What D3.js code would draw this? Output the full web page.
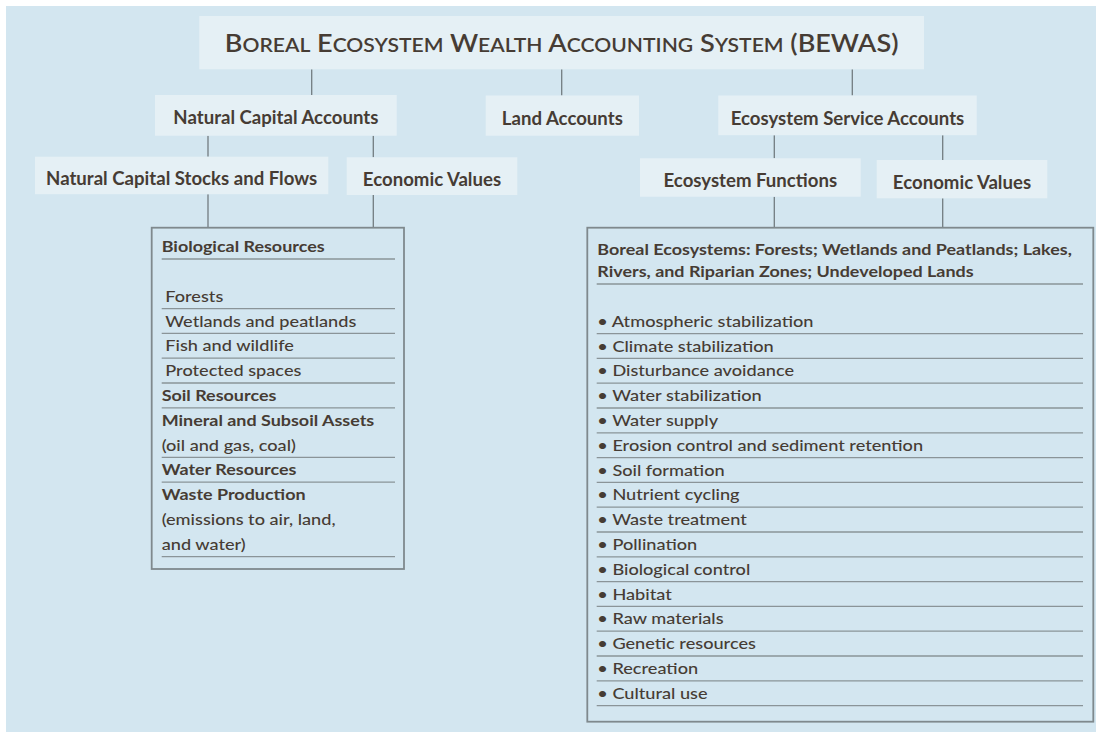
<!DOCTYPE html>
<html>
<head>
<meta charset="utf-8">
<script src="https://cdn.jsdelivr.net/npm/d3@7"></script>
<style>
  html, body { margin: 0; padding: 0; background: #ffffff; }
  svg { display: block; }
  text { font-family: "Lato", "Open Sans", sans-serif; fill: #463c34; }
</style>
</head>
<body>
<svg id="chart" width="1096" height="732"></svg>
<script>
// ---------------- DATA ----------------
const titleText = "Boreal Ecosystem Wealth Accounting System (BEWAS)";

const level1 = ["Natural Capital Accounts", "Land Accounts", "Ecosystem Service Accounts"];

const level2 = [
  { label: "Natural Capital Stocks and Flows", parent: 0 },
  { label: "Economic Values", parent: 0 },
  { label: "Ecosystem Functions", parent: 2 },
  { label: "Economic Values", parent: 2 }
];

// Left panel: groups of lines; a rule follows each non-empty group
const naturalCapitalGroups = [
  [{ t: "Biological Resources", k: "head" }],
  [],
  [{ t: "Forests", k: "sub" }],
  [{ t: "Wetlands and peatlands", k: "sub" }],
  [{ t: "Fish and wildlife", k: "sub" }],
  [{ t: "Protected spaces", k: "sub" }],
  [{ t: "Soil Resources", k: "head" }],
  [{ t: "Mineral and Subsoil Assets", k: "head" }, { t: "(oil and gas, coal)", k: "note" }],
  [{ t: "Water Resources", k: "head" }],
  [{ t: "Waste Production", k: "head" }, { t: "(emissions to air, land,", k: "note" }, { t: "and water)", k: "note" }]
];

const ecosystemHeader = [
  "Boreal Ecosystems: Forests; Wetlands and Peatlands; Lakes,",
  "Rivers, and Riparian Zones; Undeveloped Lands"
];

const ecosystemServices = [
  "Atmospheric stabilization",
  "Climate stabilization",
  "Disturbance avoidance",
  "Water stabilization",
  "Water supply",
  "Erosion control and sediment retention",
  "Soil formation",
  "Nutrient cycling",
  "Waste treatment",
  "Pollination",
  "Biological control",
  "Habitat",
  "Raw materials",
  "Genetic resources",
  "Recreation",
  "Cultural use"
];

// ---------------- LAYOUT ----------------
const layout = {
  title: { x0: 199.3, x1: 924, y0: 16, y1: 69.3, base: 52.3, width: 673.7 },
  level1: [
    { x0: 155, x1: 396.7, y0: 95, y1: 135.7, link: 311.7 },
    { x0: 485.7, x1: 639, y0: 95.5, y1: 135.7, link: 561.7 },
    { x0: 718.3, x1: 976.7, y0: 95.5, y1: 135.2, link: 852.3 }
  ],
  level2: [
    { x0: 35, x1: 328.3, y0: 156.7, y1: 194.2, link: 208 },
    { x0: 346.7, x1: 517.3, y0: 157.3, y1: 195, link: 373.3 },
    { x0: 640, x1: 860.7, y0: 158.3, y1: 196.7, link: 774.3 },
    { x0: 876.7, x1: 1047.3, y0: 160, y1: 198.3, link: 942.7 }
  ],
  leftPanel: { x0: 151.7, x1: 404, y0: 227.7, y1: 569, textX: 161.7, indent: 3.6, ruleX0: 161.7, ruleX1: 395 },
  rightPanel: { x0: 587.3, x1: 1093.3, y0: 227.7, y1: 721.7, textX: 597.3, ruleX0: 596.7, ruleX1: 1083 },
  rowPitch: 24.8,
  firstRule: 259,
  rightFirstRule: 284
};

const colors = {
  bg: "#d3e6f0",
  box: "#e5f0f5",
  line: "#727c80",
  rule: "#8a9498",
  border: "#7f898d"
};

// ---------------- DRAW ----------------
const svg = d3.select("#chart");
svg.append("rect").attr("x", 0).attr("y", 0).attr("width", 1096).attr("height", 732).attr("fill", "#ffffff");
svg.append("rect").attr("x", 6).attr("y", 6).attr("width", 1090).attr("height", 726).attr("fill", colors.bg);

function calib(style, str, target) {
  const t = svg.append("text").attr("x", -1000).attr("y", -1000).text(str);
  style(t);
  const w = t.node().getComputedTextLength();
  t.remove();
  return target / w;
}
function fit(sel, factor) {
  sel.each(function () {
    const w = this.getComputedTextLength();
    d3.select(this).attr("textLength", w * factor).attr("lengthAdjust", "spacingAndGlyphs");
  });
}

const styleNode = s => s.attr("font-size", 18.5).attr("font-weight", 700);
const styleHead = s => s.attr("font-size", 15.6).attr("font-weight", 700);
const styleItem = s => s.attr("font-size", 15.8).attr("font-weight", 500);

const fNode = calib(styleNode, "Natural Capital Accounts", 205);
const fHead = calib(styleHead, "Biological Resources", 163);
const fItem = calib(styleItem, "Wetlands and peatlands", 191);

// connectors
const links = svg.append("g").attr("stroke", colors.line).attr("stroke-width", 1.3);
layout.level1.forEach(b => {
  links.append("line").attr("x1", b.link).attr("x2", b.link).attr("y1", layout.title.y1).attr("y2", b.y0);
});
level2.forEach((d, i) => {
  const b = layout.level2[i];
  const p = layout.level1[d.parent];
  links.append("line").attr("x1", b.link).attr("x2", b.link).attr("y1", p.y1).attr("y2", b.y0);
  const panel = i < 2 ? layout.leftPanel : layout.rightPanel;
  links.append("line").attr("x1", b.link).attr("x2", b.link).attr("y1", b.y1).attr("y2", panel.y0);
});

// title box with manual small caps
const T = layout.title;
svg.append("rect").attr("x", T.x0).attr("y", T.y0).attr("width", T.x1 - T.x0).attr("height", T.y1 - T.y0).attr("fill", colors.box);
const capSize = 24.5, smallSize = 24.5 * 0.78;
const title = svg.append("text")
  .attr("x", (T.x0 + T.x1) / 2).attr("y", T.base)
  .attr("text-anchor", "middle")
  .attr("font-weight", 600)
  .attr("font-size", capSize);
titleText.split(" ").forEach((word, wi) => {
  const pre = wi > 0 ? " " : "";
  if (word === word.toUpperCase()) {
    title.append("tspan").attr("font-size", capSize).text(pre + word);
  } else {
    title.append("tspan").attr("font-size", capSize).text(pre + word[0]);
    title.append("tspan").attr("font-size", smallSize).text(word.slice(1).toUpperCase());
  }
});
title.attr("textLength", T.width).attr("lengthAdjust", "spacingAndGlyphs");

// level boxes
function nodeBox(label, b, baseOff) {
  svg.append("rect").attr("x", b.x0).attr("y", b.y0).attr("width", b.x1 - b.x0).attr("height", b.y1 - b.y0).attr("fill", colors.box);
  const t = svg.append("text")
    .attr("x", (b.x0 + b.x1) / 2).attr("y", b.y0 + baseOff)
    .attr("text-anchor", "middle").text(label);
  styleNode(t);
  fit(t, fNode);
}
level1.forEach((lab, i) => nodeBox(lab, layout.level1[i], 29.3));
level2.forEach((d, i) => nodeBox(d.label, layout.level2[i], 28.6));

// row scale
const rowY = d3.scaleLinear().domain([0, 1]).range([0, layout.rowPitch]);

// left panel
const L = layout.leftPanel;
svg.append("rect").attr("x", L.x0).attr("y", L.y0).attr("width", L.x1 - L.x0).attr("height", L.y1 - L.y0)
  .attr("fill", "none").attr("stroke", colors.border).attr("stroke-width", 1.8);

let row = 0;
const lg = svg.append("g");
naturalCapitalGroups.forEach(group => {
  if (group.length === 0) { row += 1; return; }
  group.forEach(line => {
    const y = layout.firstRule + rowY(row) - 6.8;
    const t = lg.append("text").attr("x", L.textX + (line.k === "sub" ? L.indent : 0)).attr("y", y).text(line.t);
    if (line.k === "head") { styleHead(t); fit(t, fHead); } else { styleItem(t); fit(t, fItem); }
    row += 1;
  });
  const ry = layout.firstRule + rowY(row - 1);
  lg.append("line").attr("x1", L.ruleX0).attr("x2", L.ruleX1).attr("y1", ry).attr("y2", ry)
    .attr("stroke", colors.rule).attr("stroke-width", 1.3);
});

// right panel
const R = layout.rightPanel;
svg.append("rect").attr("x", R.x0).attr("y", R.y0).attr("width", R.x1 - R.x0).attr("height", R.y1 - R.y0)
  .attr("fill", "none").attr("stroke", colors.border).attr("stroke-width", 1.8);
const rg = svg.append("g");
ecosystemHeader.forEach((h, i) => {
  const y = layout.rightFirstRule - 7.3 - (ecosystemHeader.length - 1 - i) * 21.7;
  const t = rg.append("text").attr("x", R.textX).attr("y", y).text(h);
  styleHead(t); fit(t, fHead);
});
rg.append("line").attr("x1", R.ruleX0).attr("x2", R.ruleX1)
  .attr("y1", layout.rightFirstRule).attr("y2", layout.rightFirstRule)
  .attr("stroke", colors.rule).attr("stroke-width", 1.3);

ecosystemServices.forEach((s, i) => {
  const ry = layout.rightFirstRule + rowY(i + 2);
  const t = rg.append("text").attr("x", R.textX).attr("y", ry - 6.8).text("\u2022 " + s);
  styleItem(t); fit(t, fItem);
  rg.append("line").attr("x1", R.ruleX0).attr("x2", R.ruleX1).attr("y1", ry).attr("y2", ry)
    .attr("stroke", colors.rule).attr("stroke-width", 1.3);
});
</script>
</body>
</html>
